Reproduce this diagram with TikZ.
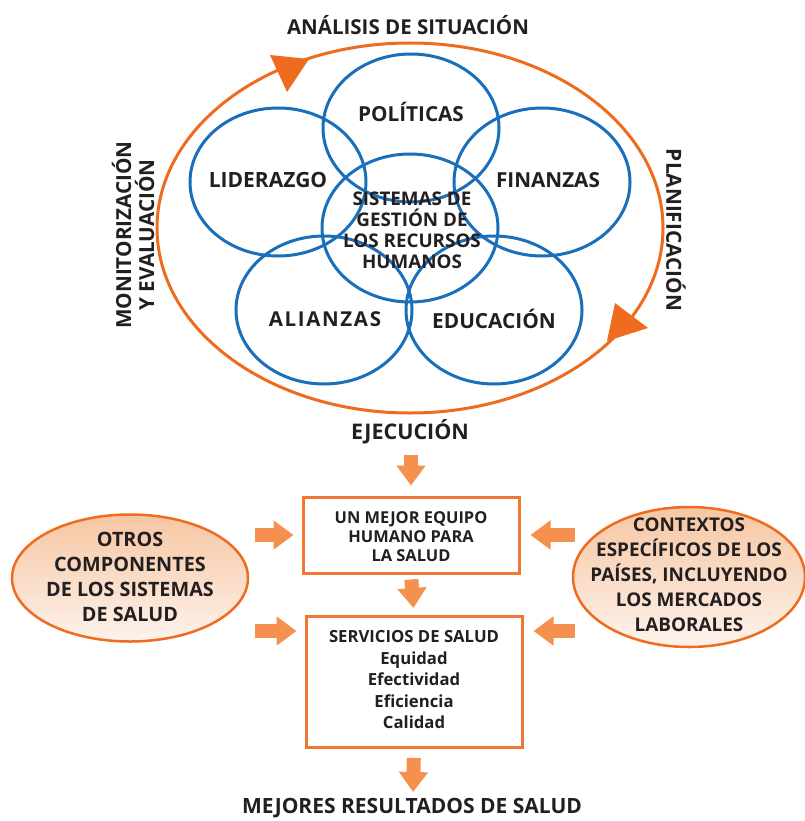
\documentclass[tikz,border=0pt]{standalone}
\usepackage{fontspec}
\setmainfont{Open Sans}
\usetikzlibrary{shapes.geometric,arrows.meta}
\definecolor{cblue}{HTML}{1A6FBA}
\definecolor{corange}{HTML}{EF6C1F}
\definecolor{cbox}{HTML}{F07632}
\definecolor{carrow}{HTML}{F5904E}
\definecolor{ctext}{HTML}{231F20}
\definecolor{cfilltop}{HTML}{F6C6A2}
\definecolor{cfillbot}{HTML}{FDF3EC}
\newcommand{\fs}[2]{\fontsize{#1}{#2}\selectfont}
\begin{document}
\begin{tikzpicture}[x=1pt,y=-1pt,
  txt/.style={text=ctext, align=center, inner sep=0pt, font=\bfseries},
  bcirc/.style={draw=cblue, line width=3pt, ellipse, minimum width=176pt, minimum height=148pt, inner sep=0pt},
  boxstyle/.style={draw=cbox, line width=3pt, rectangle, inner sep=0pt, fill=white},
  sideell/.style={draw=corange, line width=2.5pt, ellipse, inner sep=0pt, top color=cfilltop, bottom color=cfillbot},
  barrow/.style={draw=carrow, line width=14pt, -{Triangle[width=28pt,length=20pt]}}
]
\useasboundingbox (0,0) rectangle (804,821);
\fill[white] (0,0) rectangle (804,821);

% cycle
\node[draw=corange, line width=3pt, ellipse, minimum width=506pt, minimum height=370pt, inner sep=0pt] (cycle) at (410,228) {};
\fill[corange] (270,55) -- (309,59) -- (287,92) -- cycle;
\fill[corange] (615,303) -- (648,328) -- (607,341) -- cycle;

% blue circles
\node[bcirc] (pol) at (411,128) {};
\node[bcirc] (lid) at (278,182) {};
\node[bcirc] (fin) at (542,182) {};
\node[bcirc] (sis) at (410,228) {};
\node[bcirc] (ali) at (324,310) {};
\node[bcirc] (edu) at (494,310) {};

\node[txt, font=\bfseries\fs{20.7}{20}] (tpol) at (411,112) {POLÍTICAS};
\node[txt, font=\bfseries\fs{21}{20}] (tlid) at (268,180) {LIDERAZGO};
\node[txt, font=\bfseries\fs{20.7}{20}] (tfin) at (548,180) {FINANZAS};
\node[txt, font=\bfseries\fs{18.8}{21}] (tsis) at (412,230) {SISTEMAS DE\\GESTIÓN DE\\LOS RECURSOS\\HUMANOS};
\node[txt, font=\bfseries\fs{20.5}{20}\addfontfeature{LetterSpace=8}] (tali) at (325,319) {ALIANZAS};
\node[txt, font=\bfseries\fs{20.8}{20}] (tedu) at (494,319) {EDUCACIÓN};

\node[txt, font=\bfseries\fs{20.5}{20}] (ana) at (408,25) {ANÁLISIS DE SITUACIÓN};
\node[txt, font=\bfseries\fs{21.5}{20}] (ejec) at (410,432) {EJECUCIÓN};
\node[txt, font=\bfseries\fs{20.7}{23}, rotate=90] (mon) at (133,235) {MONITORIZACIÓN\\Y EVALUACIÓN};
\node[txt, font=\bfseries\fs{20.8}{20}, rotate=-90] (plan) at (676,230) {PLANIFICACIÓN};

% lower part
\node[boxstyle, minimum width=216pt, minimum height=76pt] (box1) at (411,535) {};
\node[txt, font=\bfseries\fs{16.4}{19}] (tbox1) at (411,537) {UN MEJOR EQUIPO\\HUMANO PARA\\LA SALUD};
\node[boxstyle, minimum width=216pt, minimum height=131pt] (box2) at (414,682) {};
\node[txt, font=\bfseries\fs{16.7}{21.5}] (tbox2) at (414,680) {SERVICIOS DE SALUD\\Equidad\\Efectividad\\Eficiencia\\Calidad};

\node[sideell, minimum width=236pt, minimum height=127pt] (left) at (130,578) {};
\node[txt, font=\bfseries\fs{19.8}{25}] (tleft) at (130,577) {OTROS\\COMPONENTES\\DE LOS SISTEMAS\\DE SALUD};
\node[sideell, minimum width=232pt, minimum height=140pt] (right) at (689,577) {};
\node[txt, font=\bfseries\fs{18.9}{25}] (tright) at (689,575) {CONTEXTOS\\ESPECÍFICOS DE LOS\\PAÍSES, INCLUYENDO\\LOS MERCADOS\\LABORALES};

\node[txt, font=\bfseries\fs{21}{20}] (res) at (412,808) {MEJORES RESULTADOS DE SALUD};

% arrows
\coordinate (a1) at (411,455);
\coordinate (a3) at (413,792);
\coordinate (l1) at (255,535);
\coordinate (l2) at (255,631);
\coordinate (r1) at (575,535);
\coordinate (r2) at (575,631);
\draw[barrow, shorten >=10pt] (a1) -- (box1.north);
\draw[barrow, shorten <=5pt, shorten >=7pt] (box1.south) -- (box2.north);
\draw[barrow, shorten <=9pt] (box2.south) -- (a3);
\draw[barrow, shorten >=8pt] (l1) -- (box1.west |- l1);
\draw[barrow, shorten >=8pt] (l2) -- (box2.west |- l2);
\draw[barrow, shorten >=10pt] (r1) -- (box1.east |- r1);
\draw[barrow, shorten >=10pt] (r2) -- (box2.east |- r2);
\end{tikzpicture}
\end{document}
